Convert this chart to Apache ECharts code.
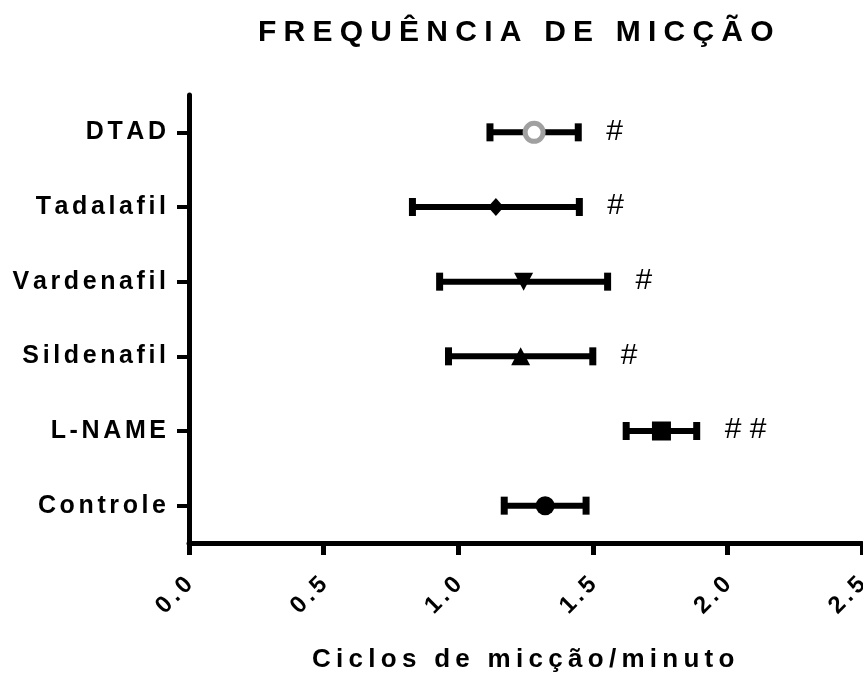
<!DOCTYPE html>
<html>
<head>
<meta charset="utf-8">
<script src="https://cdn.jsdelivr.net/npm/echarts@6/dist/echarts.min.js"></script>
<style>
  html, body { margin: 0; padding: 0; background: #fff; }
  #chart { width: 863px; height: 675px; }
</style>
</head>
<body>
<div id="chart"></div>
<script>
// ---- data ----
const chartTitle = 'FREQUÊNCIA DE MICÇÃO';
const xAxisTitle = 'Ciclos de micção/minuto';
const categories = ['Controle', 'L-NAME', 'Sildenafil', 'Vardenafil', 'Tadalafil', 'DTAD'];
const means = [1.323, 1.755, 1.232, 1.243, 1.140, 1.282];
const sems  = [0.152, 0.131, 0.268, 0.312, 0.310, 0.164];
const annotations = ['', '##', '#', '#', '#', '#'];
const xMin = 0, xMax = 2.5, xStep = 0.5;

// ---- styles ----
const FONT = '"Liberation Sans", Arial, sans-serif';
const markerStyles = [
  { symbol: 'circle',   size: 19,       rotate: 0,   color: '#000', border: '#000', bw: 0 },
  { symbol: 'rect',     size: 19,       rotate: 0,   color: '#000', border: '#000', bw: 0 },
  { symbol: 'triangle', size: [19, 18], rotate: 0,   color: '#000', border: '#000', bw: 0 },
  { symbol: 'triangle', size: [19, 18], rotate: 180, color: '#000', border: '#000', bw: 0 },
  { symbol: 'diamond',  size: [16, 18], rotate: 0,   color: '#000', border: '#000', bw: 0 },
  { symbol: 'circle',   size: 18,       rotate: 0,   color: '#fff', border: '#a0a0a0', bw: 5 }
];

// letter-spaced rich text (gap key g)
function spaced(str) {
  return str.split(' ').map(w => Array.from(w).join('{g| }')).join('{g| } {g| }');
}

const errData = categories.map((c, i) => [i, means[i] - sems[i], means[i] + sems[i]]);
const markerData = categories.map((c, i) => ({
  value: [means[i], i],
  symbol: markerStyles[i].symbol,
  symbolSize: markerStyles[i].size,
  symbolRotate: markerStyles[i].rotate,
  itemStyle: { color: markerStyles[i].color, borderColor: markerStyles[i].border,
               borderWidth: markerStyles[i].bw, opacity: 1 }
}));
const annData = categories.map((c, i) => [i, means[i] + sems[i], annotations[i]]);

const chart = echarts.init(document.getElementById('chart'), null, { renderer: 'canvas' });
chart.setOption({
  animation: false,
  backgroundColor: '#fff',
  title: [
    {
      text: spaced(chartTitle),
      left: 258, top: 18, padding: 0,
      textStyle: { fontFamily: FONT, fontWeight: 'bold', fontSize: 30, color: '#000', lineHeight: 30,
        rich: { g: { fontSize: 26, fontFamily: FONT } } }
    },
    {
      text: spaced(xAxisTitle),
      left: 312, top: 647, padding: 0,
      textStyle: { fontFamily: FONT, fontWeight: 'bold', fontSize: 26, color: '#000', lineHeight: 26,
        rich: { g: { fontSize: 19, fontFamily: FONT } } }
    }
  ],
  grid: { left: 189, right: 1, top: 95, bottom: 132, containLabel: false, outerBoundsMode: 'none' },
  xAxis: {
    type: 'value', min: xMin, max: xMax, interval: xStep,
    axisLine: { show: true, lineStyle: { color: '#000', width: 5 } },
    axisTick: { show: true, length: 12, lineStyle: { color: '#000', width: 5 } },
    splitLine: { show: false },
    axisLabel: {
      rotate: 45, margin: 38, color: '#000', fontFamily: FONT, fontWeight: 'bold', fontSize: 24,
      showMinLabel: true, showMaxLabel: true, hideOverlap: false,
      formatter: v => spaced(v.toFixed(1)),
      rich: { g: { fontSize: 14, fontFamily: FONT } }
    }
  },
  yAxis: {
    type: 'category', data: categories,
    axisLine: { show: true, lineStyle: { color: '#000', width: 5 } },
    axisTick: { show: true, alignWithLabel: true, length: 12, lineStyle: { color: '#000', width: 4 } },
    splitLine: { show: false },
    axisLabel: {
      margin: 23, color: '#000', fontFamily: FONT, fontWeight: 'bold', fontSize: 25,
      formatter: v => spaced(v),
      rich: { g: { fontSize: 13, fontFamily: FONT } }
    }
  },
  series: [
    {
      type: 'custom', name: 'sem', z: 2,
      data: errData,
      encode: { x: [1, 2], y: 0 },
      renderItem: function (params, api) {
        const cat = api.value(0);
        const p1 = api.coord([api.value(1), cat]);
        const p2 = api.coord([api.value(2), cat]);
        const h = 9;
        const bar = { stroke: '#000', lineWidth: 6 };
        const cap = { stroke: '#000', lineWidth: 7 };
        return {
          type: 'group',
          children: [
            { type: 'line', shape: { x1: p1[0], y1: p1[1], x2: p2[0], y2: p2[1] }, style: bar },
            { type: 'line', shape: { x1: p1[0], y1: p1[1] - h, x2: p1[0], y2: p1[1] + h }, style: cap },
            { type: 'line', shape: { x1: p2[0], y1: p2[1] - h, x2: p2[0], y2: p2[1] + h }, style: cap }
          ]
        };
      }
    },
    {
      type: 'scatter', name: 'mean', z: 3,
      itemStyle: { opacity: 1 },
      data: markerData
    },
    {
      type: 'custom', name: 'sig', z: 4,
      data: annData,
      encode: { x: 1, y: 0 },
      renderItem: function (params, api) {
        const i = params.dataIndex;
        const p = api.coord([api.value(1), api.value(0)]);
        return {
          type: 'text',
          x: p[0] + 28, y: p[1] - 1,
          style: {
            text: annotations[i].split('').join(' '),
            fontFamily: FONT, fontSize: 30, fontWeight: 'normal', fill: '#000',
            align: 'left', verticalAlign: 'middle'
          }
        };
      }
    }
  ]
});
</script>
</body>
</html>
